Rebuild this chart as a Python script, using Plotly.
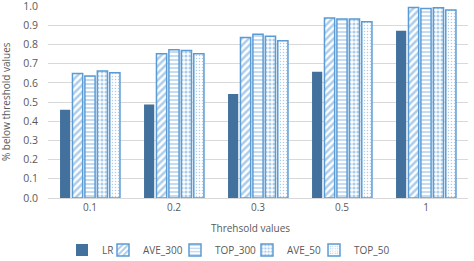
import plotly.graph_objects as go

categories = ["0.1", "0.2", "0.3", "0.5", "1"]
LR = [0.46, 0.487, 0.542, 0.658, 0.872]
AVE_300 = [0.649, 0.752, 0.836, 0.938, 0.993]
TOP_300 = [0.636, 0.772, 0.853, 0.933, 0.988]
AVE_50 = [0.662, 0.769, 0.843, 0.933, 0.991]
TOP_50 = [0.653, 0.752, 0.819, 0.919, 0.98]
y_ticks = [0.0, 0.1, 0.2, 0.3, 0.4, 0.5, 0.6, 0.7, 0.8, 0.9, 1.0]

blue = "#5B9BD5"
dark = "#41719C"
grey = "#595959"

fig = go.Figure()
fig.add_bar(name="LR", x=categories, y=LR, legend="legend",
            marker=dict(color=dark, line=dict(color=dark, width=0)))

def pat_bar(name, vals, shape, size, solidity, leg):
    fig.add_bar(
        name=name, x=categories, y=vals, legend=leg,
        marker=dict(
            color="white",
            line=dict(color=blue, width=1.5),
            pattern=dict(shape=shape, fgcolor=blue, bgcolor="white", size=size,
                         solidity=solidity, fillmode="overlay"),
        ),
    )

pat_bar("AVE_300", AVE_300, "/", 5, 0.5, "legend2")
pat_bar("TOP_300", TOP_300, "-", 4, 0.35, "legend3")
pat_bar("AVE_50", AVE_50, ".", 4, 0.5, "legend4")
pat_bar("TOP_50", TOP_50, ".", 3, 0.2, "legend5")

W, H = 474, 261
T, B, L, R = 6, 63, 48, 6
PH = H - T - B
PW = W - L - R
sym_centers = [80, 121, 193, 265, 332]
leg_common = dict(xref="container", yref="container", xanchor="left", yanchor="middle",
                  y=1 - 250 / H, font=dict(size=10, color=grey),
                  itemwidth=30, bgcolor="rgba(0,0,0,0)", borderwidth=0)
legends = {}
for i, c in enumerate(sym_centers):
    key = "legend" if i == 0 else f"legend{i+1}"
    legends[key] = dict(leg_common, x=(c - 18) / W)

fig.update_layout(
    width=W, height=H,
    margin=dict(l=L, r=R, t=T, b=B, autoexpand=False),
    paper_bgcolor="white", plot_bgcolor="white",
    barmode="group", bargap=0.26, bargroupgap=0.18,
    font=dict(family="Open Sans", size=10, color=grey),
    showlegend=True,
    xaxis=dict(
        showline=True, linecolor="#D9D9D9", linewidth=1, ticks="",
        tickfont=dict(size=10, color=grey), automargin=False,
    ),
    yaxis=dict(
        range=[0, 1.0005], tickvals=y_ticks, tickformat=".1f",
        showgrid=True, gridcolor="#D9D9D9", gridwidth=1, zeroline=False,
        tickfont=dict(size=10.5, color=grey), automargin=False,
        ticks="outside", ticklen=7, tickcolor="rgba(0,0,0,0)",
        ticklabeloverflow="allow",
    ),
    annotations=[
        dict(text="Threhsold values", xref="paper", yref="paper",
             x=(250 - L) / PW, y=-(228 - (T + PH)) / PH, xanchor="center", yanchor="middle",
             showarrow=False, font=dict(size=10, color=grey)),
        dict(text="% below threshold values", xref="paper", yref="paper",
             x=(6 - L) / PW, y=0.5, xanchor="center", yanchor="middle", textangle=-90,
             showarrow=False, font=dict(size=10, color=grey)),
    ],
    **legends,
)

fig.write_html("out.html")
